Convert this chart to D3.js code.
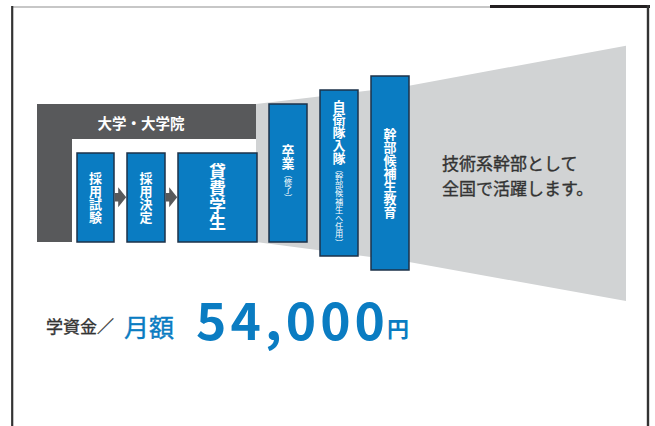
<!DOCTYPE html>
<html>
<head>
<meta charset="utf-8">
<script src="https://cdn.jsdelivr.net/npm/d3@7"></script>
<style>
html, body { margin: 0; padding: 0; background: #fff; }
svg { display: block; }
text { font-family: "Noto Sans CJK JP", "Noto Sans", sans-serif; }
</style>
</head>
<body>
<script>
// ---- データ ----
const schoolLabel = "大学・大学院";
const steps = ["採用試験", "採用決定", "貸費学生"];
const stepSizes = [13, 13, 17];
const stages = ["卒業", "自衛隊入隊", "幹部候補生教育"];
const stageNotes = ["（修了）", "（幹部候補生へ任用）", ""];
const outcomeLines = ["技術系幹部として", "全国で活躍します。"];
const grantLabels = ["学資金／", "月額"];
const grantAmount = [54000];
const grantUnit = "円";

// ---- レイアウト ----
const Width = 655, Height = 426;
const BLUE = "#0a7cc2", EDGE = "#1c3249", DARK = "#58595b", LIGHT = "#d1d3d4";

const svg = d3.select(document.body).append("svg")
    .attr("width", Width).attr("height", Height);

// 枠線
svg.append("line").attr("x1", 12).attr("y1", 7).attr("x2", 491).attr("y2", 7)
    .attr("stroke", "#b5b5b5").attr("stroke-width", 1.5);
svg.append("line").attr("x1", 490).attr("y1", 6.5).attr("x2", 650).attr("y2", 6.5)
    .attr("stroke", "#231f20").attr("stroke-width", 3);
svg.append("line").attr("x1", 12.2).attr("y1", 6).attr("x2", 12.2).attr("y2", Height)
    .attr("stroke", "#333").attr("stroke-width", 2.2);
svg.append("line").attr("x1", 648).attr("y1", 5).attr("x2", 648).attr("y2", Height)
    .attr("stroke", "#333").attr("stroke-width", 2.4);

// 段階ボックスの比例尺
const stageX = d3.scaleBand().domain(stages).range([269, 409]).paddingInner(0.255);
const stageTop = d3.scaleLinear().domain([0, stages.length - 1]).range([104, 76]);
const stageBottom = d3.scaleLinear().domain([0, stages.length - 1]).range([242, 270]);

// 灰色の台形（広がり）
const fan = [[256, 104], [409, 85.7], [626, 45.7], [626, 301], [409, 262], [256, 242]];
svg.append("path").attr("d", d3.line()(fan) + "Z").attr("fill", LIGHT);

// 大学・大学院 の L 字
const L = [[37, 104], [256, 104], [256, 139], [72, 139], [72, 242], [37, 242]];
svg.append("path").attr("d", d3.line()(L) + "Z").attr("fill", DARK);
svg.append("text").attr("x", 141).attr("y", 122)
    .attr("text-anchor", "middle").attr("dominant-baseline", "central")
    .attr("fill", "#fff").attr("font-size", 14.5).attr("font-weight", 700)
    .text(schoolLabel);

// 採用ステップ
const stepLeft = [77, 127, 178], stepRight = [114, 165, 257];
const stepY = d3.scaleLinear().domain([0, 1]).range([153, 242]);
const stepG = svg.selectAll(".step").data(steps).enter().append("g").attr("class", "step");
stepG.append("rect")
    .attr("x", (d, i) => stepLeft[i]).attr("y", stepY(0))
    .attr("width", (d, i) => stepRight[i] - stepLeft[i]).attr("height", stepY(1) - stepY(0))
    .attr("fill", BLUE).attr("stroke", EDGE).attr("stroke-width", 1.5);
stepG.append("text")
    .attr("x", (d, i) => (stepLeft[i] + stepRight[i]) / 2).attr("y", stepY(0.5))
    .attr("text-anchor", "middle")
    .style("writing-mode", "vertical-rl")
    .attr("fill", "#fff").attr("font-size", (d, i) => stepSizes[i]).attr("font-weight", 700)
    .text(d => d);

// 矢印
const arrow = (x0, x1, cy) => {
    const h = x1 - 8;
    return d3.line()([[x0, cy - 4.2], [h, cy - 4.2], [h, cy - 10], [x1, cy], [h, cy + 10],
        [h, cy + 4.2], [x0, cy + 4.2]]) + "Z";
};
for (let i = 0; i < steps.length - 1; i++) {
    svg.append("path").attr("d", arrow(stepRight[i] + 0.8, stepLeft[i + 1] - 0.8, 197.3))
        .attr("fill", DARK);
}

// 段階ボックス
const stageG = svg.selectAll(".stage").data(stages).enter().append("g").attr("class", "stage");
stageG.append("rect")
    .attr("x", d => stageX(d)).attr("y", (d, i) => stageTop(i))
    .attr("width", stageX.bandwidth()).attr("height", (d, i) => stageBottom(i) - stageTop(i))
    .attr("fill", BLUE).attr("stroke", EDGE).attr("stroke-width", 1.5);
const stageText = stageG.append("text")
    .attr("x", d => stageX(d) + stageX.bandwidth() / 2)
    .attr("y", (d, i) => (stageTop(i) + stageBottom(i)) / 2)
    .attr("text-anchor", "middle")
    .style("writing-mode", "vertical-rl")
    .attr("fill", "#fff").attr("font-weight", 700);
stageText.append("tspan").attr("font-size", 13).text(d => d);
stageText.append("tspan").attr("font-size", 8.2).attr("font-weight", 400)
    .text((d, i) => stageNotes[i]);

// 右側の説明
svg.selectAll(".outcome").data(outcomeLines).enter().append("text")
    .attr("class", "outcome")
    .attr("x", 442).attr("y", (d, i) => 162 + i * 25)
    .attr("dominant-baseline", "central")
    .attr("fill", "#333").attr("stroke", "#333").attr("stroke-width", 0.35)
    .attr("font-size", 17)
    .text(d => d);

// 学資金
svg.append("text").attr("x", 46).attr("y", 325)
    .attr("dominant-baseline", "central")
    .attr("fill", "#333").attr("stroke", "#333").attr("stroke-width", 0.35)
    .attr("font-size", 17)
    .text(grantLabels[0]);
svg.append("text").attr("x", 124).attr("y", 325.5)
    .attr("dominant-baseline", "central")
    .attr("fill", BLUE).attr("stroke", BLUE).attr("stroke-width", 0.4)
    .attr("font-size", 25)
    .text(grantLabels[1]);
svg.selectAll(".amount").data(grantAmount).enter().append("text")
    .attr("class", "amount")
    .attr("x", 196).attr("y", 340)
    .attr("fill", BLUE).attr("font-family", "Roboto, 'Liberation Sans', sans-serif")
    .attr("font-size", 51.5).attr("font-weight", 700)
    .attr("textLength", 189).attr("lengthAdjust", "spacing")
    .text(d => d3.format(",")(d));
svg.append("text").attr("x", 387).attr("y", 327)
    .attr("dominant-baseline", "central")
    .attr("fill", BLUE).attr("font-size", 22).attr("font-weight", 700)
    .text(grantUnit);
</script>
</body>
</html>
